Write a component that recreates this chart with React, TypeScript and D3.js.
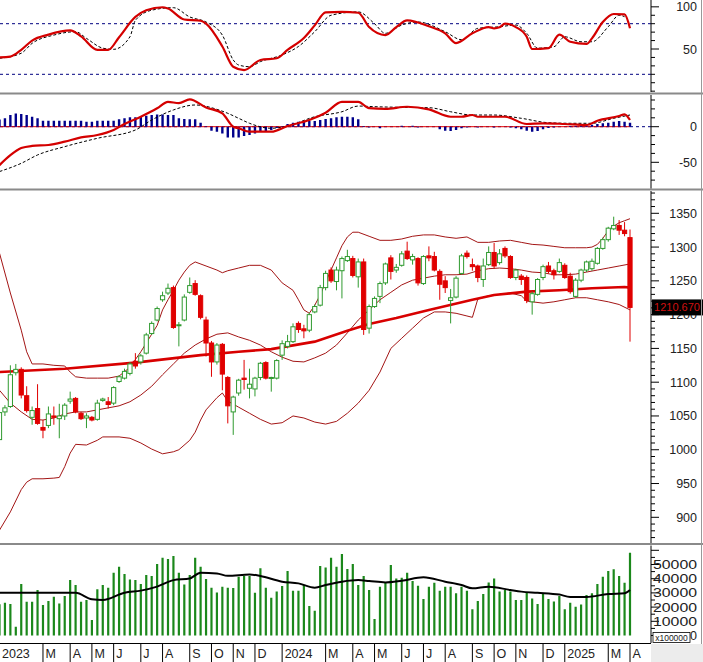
import * as d3 from 'd3'
import { useMemo } from 'react'

const W = 703
const H = 662
const AXIS_X = 651

// weekly candles Jan 2023 .. Apr 2025 : [open, high, low, close]
const candles: number[][] = [
  [1015, 1062, 1008, 1055], [1056, 1066, 1050, 1062], [1064, 1125, 1062, 1111], [1114, 1127, 1110, 1119],
  [1119, 1122, 1076, 1081], [1080, 1094, 1055, 1058], [1048, 1064, 1037, 1058], [1061, 1097, 1037, 1039],
  [1033, 1044, 1017, 1029], [1036, 1064, 1032, 1053], [1050, 1064, 1037, 1048], [1046, 1068, 1017, 1050],
  [1050, 1069, 1044, 1066], [1072, 1086, 1068, 1075], [1076, 1078, 1054, 1056], [1054, 1056, 1044, 1046],
  [1047, 1054, 1032, 1050], [1048, 1050, 1042, 1044], [1045, 1074, 1043, 1069], [1073, 1077, 1071, 1075],
  [1071, 1078, 1061, 1067], [1069, 1094, 1066, 1092], [1101, 1110, 1099, 1108], [1106, 1120, 1104, 1116],
  [1113, 1130, 1110, 1127], [1131, 1143, 1120, 1124], [1130, 1142, 1126, 1139], [1143, 1173, 1141, 1170],
  [1172, 1190, 1170, 1187], [1192, 1212, 1190, 1209], [1222, 1234, 1219, 1228], [1232, 1246, 1229, 1239],
  [1240, 1243, 1179, 1181], [1184, 1189, 1153, 1185], [1192, 1230, 1190, 1226], [1233, 1255, 1231, 1243],
  [1246, 1251, 1228, 1230], [1228, 1230, 1193, 1196], [1192, 1197, 1138, 1158], [1158, 1161, 1108, 1130],
  [1130, 1158, 1126, 1155], [1156, 1158, 1088, 1112], [1107, 1109, 1039, 1065], [1056, 1080, 1022, 1078],
  [1084, 1105, 1080, 1103], [1106, 1133, 1089, 1104], [1091, 1120, 1076, 1097], [1090, 1108, 1079, 1106],
  [1107, 1130, 1103, 1128], [1129, 1131, 1104, 1106], [1106, 1108, 1086, 1107], [1106, 1134, 1104, 1132],
  [1140, 1162, 1133, 1157], [1153, 1170, 1150, 1160], [1160, 1187, 1158, 1182], [1187, 1190, 1173, 1178],
  [1179, 1185, 1165, 1176], [1177, 1203, 1174, 1200], [1204, 1215, 1202, 1212], [1214, 1244, 1212, 1240],
  [1240, 1265, 1236, 1261], [1266, 1270, 1247, 1250], [1249, 1271, 1236, 1266], [1265, 1286, 1224, 1283],
  [1280, 1296, 1278, 1286], [1283, 1287, 1255, 1258], [1256, 1283, 1240, 1278], [1278, 1283, 1170, 1178],
  [1180, 1215, 1172, 1212], [1212, 1227, 1210, 1224], [1227, 1249, 1217, 1246], [1247, 1277, 1244, 1275],
  [1284, 1288, 1252, 1264], [1266, 1275, 1262, 1270], [1273, 1294, 1271, 1290], [1294, 1308, 1281, 1283],
  [1281, 1290, 1274, 1286], [1283, 1285, 1243, 1247], [1246, 1288, 1244, 1286], [1287, 1301, 1279, 1284],
  [1286, 1293, 1264, 1266], [1264, 1267, 1222, 1245], [1250, 1257, 1232, 1240], [1221, 1238, 1187, 1225],
  [1226, 1257, 1224, 1254], [1261, 1290, 1259, 1287], [1291, 1295, 1283, 1286], [1274, 1283, 1265, 1271],
  [1272, 1274, 1248, 1255], [1252, 1283, 1241, 1272], [1274, 1301, 1272, 1292], [1292, 1306, 1268, 1272],
  [1277, 1297, 1274, 1290], [1298, 1301, 1284, 1287], [1286, 1288, 1253, 1255], [1255, 1268, 1251, 1266],
  [1257, 1260, 1244, 1252], [1255, 1258, 1217, 1221], [1219, 1234, 1200, 1231], [1230, 1254, 1228, 1252],
  [1255, 1274, 1251, 1271], [1272, 1278, 1261, 1264], [1265, 1268, 1252, 1259], [1264, 1283, 1262, 1277],
  [1273, 1276, 1253, 1255], [1257, 1262, 1231, 1234], [1227, 1254, 1225, 1251], [1251, 1268, 1248, 1266],
  [1266, 1280, 1263, 1278], [1268, 1283, 1265, 1279], [1276, 1300, 1274, 1298], [1298, 1314, 1296, 1311],
  [1311, 1330, 1308, 1328], [1327, 1345, 1325, 1332], [1332, 1340, 1318, 1325], [1325, 1337, 1316, 1320],
  [1314, 1326, 1160, 1210.67],
]

// weekly volume (x100000)
const volumes = [
  22000, 23100, 22200, 6200, 36300, 23800, 23800, 32000, 21500, 24300, 27300, 22600, 27800, 39000, 35500, 23800,
  25000, 10900, 32500, 35500, 33700, 44200, 48500, 43300, 39500, 39000, 36300, 42600, 41900, 50300, 54800, 53900,
  56000, 44200, 36000, 42600, 54800, 48500, 39800, 33700, 30200, 34400, 33700, 33500, 41400, 41900, 41900, 30100,
  47300, 33700, 26600, 30900, 34800, 45400, 31600, 31600, 35600, 20800, 17500, 48900, 47800, 54800, 48500, 57400,
  46800, 50300, 35600, 41900, 32000, 11600, 34400, 37400, 49600, 40200, 40700, 44200, 38400, 35100, 25700, 34400,
  37200, 31600, 34400, 34400, 29700, 34400, 31600, 18400, 24300, 29200, 37400, 40200, 30900, 32000, 30900, 25000,
  25000, 30100, 26100, 22200, 29200, 25700, 23900, 27900, 18400, 23000, 20200, 21900, 28600, 29700, 36300, 41400,
  45400, 46600, 41900, 37200, 58300,
]

const macdHist = [
  10, 11.7, 16.4, 18.7, 17.8, 16.4, 14, 11.7, 8.4, 8.4, 8.4, 8.4, 8.4, 8.4, 8.4, 8.4, 7, 7, 8.4, 8.4, 8.4, 8.4,
  10.3, 11.7, 13.1, 13.1, 14, 15.4, 16.4, 17.3, 17.3, 16.4, 16.4, 11.7, 10.8, 10.3, 10.3, 5.6, 0.5, -5.6, -7, -9.4,
  -15, -15, -15, -13.1, -11.7, -9.4, -7, -6, -4.7, -2, 0.5, 3.7, 5.6, 7, 7, 8, 8, 9.4, 10.8, 11.7, 13.1, 14, 14,
  13.1, 10.3, 1, -1, 0, -2.3, 0, 0, 0, 1.4, 0, 1.4, -1, 0, 0, 0, -3.7, -5.6, -6, -4.7, -2.3, -1, 0, -1, 0, 0, -1,
  0, 0, -1, -2.3, -3.7, -5.6, -7, -6, -3.7, -2, -1, 0, 0, 1, 1, 1, 1.9, 2.8, 3.7, 4.7, 5.6, 7, 8, 7, 5.6,
]

// indicator lines: [week index, value]
const rsiLine = [
  [0, 40], [2, 41], [4, 49], [6, 60], [9, 67], [13, 72], [15, 65], [18, 49], [20, 49], [22, 64], [25, 88], [27, 96],
  [30, 99.5], [31, 98], [34, 85], [37, 83.5], [38, 80], [41, 53], [43, 29], [45, 25], [48, 37], [51, 39], [53, 49],
  [56, 63], [58, 78], [60, 93.5], [63, 94], [66, 93], [68, 76], [71, 66.5], [73, 76], [75, 84], [79, 77], [82, 68.6],
  [84, 57], [87, 68.6], [90, 76], [91, 74.5], [92, 75.7], [93, 80], [95, 76], [97, 64.5], [98, 50], [101, 51],
  [103, 67], [105, 58.6], [108, 56], [109, 62.6], [111, 82], [113, 91.5], [115, 91], [116, 74.5],
]
const rsiSignal = [
  [0, 39], [4, 45], [6, 56.7], [10, 66.5], [14, 70.5], [16, 62.6], [19, 51], [21, 49.6], [24, 64.5], [25, 84],
  [28, 96], [32, 99], [35, 88], [38, 82], [41, 66.5], [43, 37], [44, 31], [46, 29], [48, 35], [52, 43], [55, 53],
  [58, 70.5], [61, 90], [66, 94], [69, 80], [71, 68.6], [74, 78.4], [77, 82], [82, 70.5], [85, 61], [88, 74.5],
  [92, 76.4], [95, 78.4], [97, 68.6], [99, 51], [102, 52.7], [104, 64.5], [107, 58.6], [109, 58.6], [112, 76.4],
  [114, 90], [115, 88.3],
]
const macdLine = [
  [0, -54], [2, -40], [4, -30], [6, -27], [9, -25.7], [12, -21], [15, -15], [18, -11.7], [21, -4.6], [23, 3.8],
  [26, 14], [29, 25.8], [31, 35], [33, 33], [35, 38.5], [38, 27], [41, 18.8], [43, 0], [44, -2.2], [46, -7],
  [50, -7], [53, 1], [57, 9.4], [60, 19.7], [63, 35], [66, 35], [68, 26], [71, 25], [75, 28], [79, 24.4], [83, 14],
  [85, 14], [87, 16.4], [88, 14], [93, 14], [97, 3.8], [100, 4.8], [104, 3.8], [108, 2.4], [110, 8.4], [114, 15],
  [115, 17.4], [116, 9.4],
]
const macdSignal = [
  [0, -63], [4, -51.4], [7, -39.7], [12, -28], [18, -16.3], [25, -4.6], [28, 9.4], [32, 23.5], [36, 30.5],
  [40, 24.4], [42, 18.8], [44, 11.8], [46, 4.8], [50, -2.2], [53, 1], [58, 14], [63, 21], [66, 29], [69, 28.1],
  [74, 27.2], [79, 26.7], [83, 21], [87, 16.4], [91, 16.4], [96, 11.8], [101, 5.6], [105, 4.8], [109, 4.8],
  [113, 11.8], [116, 16.4],
]
const bbUpper = [
  [0, 1291], [2, 1232], [4, 1177], [5, 1145], [6, 1127], [8, 1127], [10, 1125], [12, 1124], [13, 1115], [14, 1108],
  [16, 1106], [18, 1106], [20, 1106], [22, 1109], [24, 1122], [26, 1145], [27, 1158], [28, 1171], [29, 1184],
  [30, 1207], [31, 1222], [32, 1236], [33, 1251], [34, 1263], [35, 1273], [36, 1278], [38, 1272], [40, 1266],
  [41, 1262], [42, 1265], [44, 1269], [46, 1273], [48, 1273], [50, 1266], [52, 1247], [54, 1236], [55, 1222],
  [56, 1207], [57, 1202], [58, 1214], [59, 1229], [60, 1248], [61, 1266], [62, 1284], [63, 1302], [64, 1315],
  [65, 1322], [66, 1322], [68, 1316], [70, 1310], [72, 1310], [74, 1312], [76, 1316], [78, 1318], [80, 1318],
  [82, 1315], [84, 1313], [86, 1315], [88, 1307], [90, 1307], [92, 1309], [94, 1310], [96, 1307], [98, 1304],
  [100, 1303], [102, 1301], [104, 1299], [106, 1299], [108, 1299], [109, 1300], [110, 1304], [111, 1313],
  [112, 1324], [113, 1331], [114, 1336], [115, 1339], [116, 1342],
]
const bbMiddle = [
  [0, 1088], [2, 1069], [4, 1056], [6, 1045], [8, 1044], [10, 1047], [12, 1053], [14, 1056], [16, 1056], [18, 1059],
  [20, 1062], [22, 1065], [24, 1071], [26, 1081], [28, 1094], [30, 1111], [32, 1127], [34, 1143], [36, 1155],
  [38, 1164], [40, 1171], [42, 1173], [44, 1167], [46, 1162], [48, 1155], [50, 1145], [52, 1137], [54, 1131],
  [56, 1130], [58, 1136], [60, 1143], [62, 1155], [64, 1173], [66, 1192], [68, 1207], [70, 1222], [72, 1233],
  [74, 1244], [76, 1251], [78, 1254], [80, 1257], [82, 1259], [84, 1259], [86, 1260], [88, 1265], [90, 1268],
  [92, 1269], [94, 1268], [96, 1266], [98, 1263], [100, 1262], [102, 1259], [104, 1259], [106, 1260], [108, 1263],
  [110, 1266], [112, 1269], [114, 1272], [116, 1275],
]
const bbLower = [
  [0, 881], [2, 908], [4, 941], [5, 952], [6, 957], [8, 957], [10, 958], [11, 959], [12, 975], [13, 995], [14, 1008],
  [16, 1007], [18, 1014], [19, 1019], [22, 1019], [24, 1017], [26, 1010], [28, 1001], [30, 994], [32, 997],
  [33, 1000], [35, 1014], [36, 1026], [37, 1044], [38, 1059], [40, 1077], [41, 1084], [42, 1072], [44, 1063],
  [46, 1054], [48, 1045], [50, 1038], [52, 1040], [54, 1050], [56, 1047], [58, 1041], [60, 1038], [62, 1042],
  [64, 1054], [66, 1069], [68, 1088], [70, 1115], [72, 1150], [74, 1165], [76, 1180], [78, 1195], [80, 1204],
  [82, 1204], [84, 1202], [86, 1198], [87, 1196], [88, 1223], [90, 1228], [92, 1230], [94, 1232], [96, 1228],
  [97, 1220], [98, 1219], [100, 1217], [102, 1219], [104, 1222], [106, 1225], [108, 1225], [110, 1222],
  [112, 1219], [114, 1215], [116, 1207],
]
const longMA = [
  [0, 1115], [12, 1120], [25, 1129], [37, 1140], [44, 1145], [50, 1149], [58, 1160], [64, 1176], [68, 1186],
  [73, 1195], [79, 1207], [87, 1222], [91, 1229], [97, 1234], [103, 1236], [109, 1239], [115, 1241], [116, 1240],
]
const volumeMA = [
  [0, 30100], [6, 30100], [14, 30100], [17, 25500], [19, 25000], [23, 30100], [26, 31600], [29, 34400], [32, 39000],
  [35, 40200], [37, 44200], [40, 43700], [42, 42000], [46, 43000], [48, 41900], [52, 37900], [55, 36700],
  [58, 33700], [60, 35600], [63, 37900], [66, 39000], [68, 38400], [71, 37400], [74, 38600], [78, 41000],
  [82, 37900], [85, 35600], [87, 33200], [90, 34400], [94, 32000], [96, 30900], [99, 30100], [103, 28800],
  [105, 27200], [108, 27200], [112, 29200], [115, 29700], [116, 32000],
]

const monthTicks: [number, string][] = [
  [0, '2023'], [8, 'M'], [13, 'A'], [17, 'M'], [21, 'J'], [26, 'J'], [30, 'A'], [35, 'S'], [39, 'O'], [43, 'N'],
  [47, 'D'], [52, '2024'], [60, 'M'], [65, 'A'], [69, 'M'], [74, 'J'], [78, 'J'], [82, 'A'], [87, 'S'], [91, 'O'],
  [95, 'N'], [100, 'D'], [104, '2025'], [112, 'M'], [116, 'A'],
]

const rsiLabels = [50, 100]
const macdLabels = [0, -50]
const priceLabels = [900, 950, 1000, 1050, 1100, 1150, 1200, 1250, 1300, 1350]
const volLabels = [10000, 20000, 30000, 40000, 50000]
const lastClose = 1210.67

const FONT = '"Liberation Sans", Arial, sans-serif'
const GREEN = '#2f9a2f'
const RED = '#e00000'

const App = () => {
  const x = useMemo(() => d3.scaleLinear().domain([0, 116]).range([-0.5, 630]), [])
  const rsiY = useMemo(() => d3.scaleLinear().domain([20, 80]).range([74.3, 23.7]), [])
  const macdY = useMemo(() => d3.scaleLinear().domain([-50, 0]).range([162.3, 126.7]), [])
  const priceY = useMemo(() => d3.scaleLinear().domain([900, 1350]).range([517.3, 213.3]), [])
  const volY = useMemo(() => d3.scaleLinear().domain([0, 50000]).range([635.5, 564.5]), [])

  const mk = (sy: d3.ScaleLinear<number, number>, curve: d3.CurveFactory = d3.curveLinear) =>
    d3.line<number[]>().x(d => x(d[0])).y(d => sy(d[1])).curve(curve)

  const rsiPath = mk(rsiY, d3.curveMonotoneX)
  const macdPath = mk(macdY, d3.curveMonotoneX)
  const pricePath = mk(priceY)
  const volPath = mk(volY, d3.curveMonotoneX)

  // axis ticks for each panel: [value, y, major]
  const rsiTicks = d3.range(0, 101, 10).map(v => [v, rsiY(v), v % 50 === 0 && v > 0])
  const macdTicks = d3.range(-87.5, 50, 12.5)
    .filter(v => macdY(v) > 96 && macdY(v) < 188)
    .map(v => [v, macdY(v), v % 50 === 0])
  const priceTicks = d3.range(860, 1390, 10)
    .filter(v => priceY(v) > 192 && priceY(v) < 543)
    .map(v => [v, priceY(v), v % 50 === 0])
  const volTicks = d3.range(0, 65000, 5000)
    .filter(v => volY(v) > 546)
    .map(v => [v, volY(v), v % 10000 === 0])

  const tickMarks = (ticks: any[], key: string) =>
    ticks.map(([v, y, major]) => (
      <line key={key + v} x1={AXIS_X} x2={AXIS_X + (major ? 8 : 4)} y1={y} y2={y} stroke="#000" strokeWidth={1} />
    ))

  const bodyW = 4.2

  return (
    <svg width={W} height={H} style={{ position: 'absolute', left: 0, top: 0, background: '#fff' }} fontFamily={FONT}>
      <defs>
        <clipPath id="cRsi"><rect x={0} y={0} width={AXIS_X} height={92.5} /></clipPath>
        <clipPath id="cMacd"><rect x={0} y={95} width={AXIS_X} height={93.5} /></clipPath>
        <clipPath id="cPrice"><rect x={0} y={191} width={AXIS_X} height={352} /></clipPath>
        <clipPath id="cVol"><rect x={0} y={545.5} width={AXIS_X} height={97} /></clipPath>
      </defs>

      {/* RSI panel */}
      <g clipPath="url(#cRsi)">
        {[80, 20].map(v => (
          <line key={v} x1={0} x2={AXIS_X} y1={rsiY(v)} y2={rsiY(v)} stroke="#000080" strokeDasharray="3,3" />
        ))}
        <path d={rsiPath(rsiSignal) || ''} fill="none" stroke="#000" strokeWidth={1} strokeDasharray="3,2" />
        <path d={rsiPath(rsiLine) || ''} fill="none" stroke="#d40000" strokeWidth={2.2} />
      </g>

      {/* MACD panel */}
      <g clipPath="url(#cMacd)">
        <line x1={0} x2={AXIS_X} y1={macdY(0)} y2={macdY(0)} stroke="#000080" strokeDasharray="3,3" />
        <line x1={0} x2={x(116)} y1={macdY(0)} y2={macdY(0)} stroke={RED} strokeWidth={1} />
        {macdHist.map((v, i) => (
          <line key={i} x1={x(i)} x2={x(i)} y1={macdY(0)} y2={macdY(v)} stroke="#00008b" strokeWidth={2.4} />
        ))}
        <path d={macdPath(macdSignal) || ''} fill="none" stroke="#000" strokeWidth={1} strokeDasharray="3,2" />
        <path d={macdPath(macdLine) || ''} fill="none" stroke="#d40000" strokeWidth={2.2} />
      </g>

      {/* price panel */}
      <g clipPath="url(#cPrice)">
        {[bbUpper, bbMiddle, bbLower].map((s, k) => (
          <path key={k} d={pricePath(s) || ''} fill="none" stroke="#a31515" strokeWidth={1} />
        ))}
        <path d={pricePath(longMA) || ''} fill="none" stroke="#d80000" strokeWidth={2.6} />
        {candles.map(([o, h, l, c], i) => {
          const up = c >= o
          const col = up ? GREEN : RED
          const top = priceY(Math.max(o, c))
          const bot = priceY(Math.min(o, c))
          return (
            <g key={i}>
              <line x1={x(i)} x2={x(i)} y1={priceY(h)} y2={priceY(l)} stroke={col} strokeWidth={1} />
              <rect
                x={x(i) - bodyW / 2}
                y={top}
                width={bodyW}
                height={Math.max(1, bot - top)}
                fill={up ? '#fff' : col}
                stroke={col}
                strokeWidth={1}
              />
            </g>
          )
        })}
      </g>

      {/* volume panel */}
      <g clipPath="url(#cVol)">
        {volumes.map((v, i) => (
          <line key={i} x1={x(i)} x2={x(i)} y1={volY(0)} y2={volY(v)} stroke="#1b881b" strokeWidth={2.2} />
        ))}
        <path d={volPath(volumeMA) || ''} fill="none" stroke="#000" strokeWidth={2} />
      </g>

      {/* panel separators */}
      {[93.5, 189.5, 544].map(y => (
        <line key={y} x1={0} x2={W} y1={y} y2={y} stroke="#8a8a8a" strokeWidth={2} />
      ))}

      {/* right axis */}
      {[[0, 92], [95, 188.5], [191, 543], [545.5, 643]].map(([a, b]) => (
        <line key={a} x1={AXIS_X} x2={AXIS_X} y1={a} y2={b} stroke="#000" strokeWidth={1} />
      ))}
      {tickMarks(rsiTicks, 'r')}
      {tickMarks(macdTicks, 'm')}
      {tickMarks(priceTicks, 'p')}
      {tickMarks(volTicks, 'v')}

      <g fill="#222" fontSize={12.5} textAnchor="end">
        {rsiLabels.map(v => (
          <text key={'rl' + v} x={697} y={rsiY(v) + 4.5}>{v}</text>
        ))}
        {macdLabels.map(v => (
          <text key={'ml' + v} x={697} y={macdY(v) + 4.5}>{v}</text>
        ))}
        {priceLabels.map(v => (
          <text key={'pl' + v} x={697} y={priceY(v) + 4.5}>{v}</text>
        ))}
        {volLabels.map(v => (
          <text key={'vl' + v} x={697} y={volY(v) + 4.5} textLength={44} lengthAdjust="spacingAndGlyphs">{v}</text>
        ))}
        <text x={697} y={volY(0) + 4.5}>0</text>
      </g>

      {/* last price marker */}
      <rect x={AXIS_X + 1} y={priceY(lastClose) - 8} width={51} height={16} fill="#000" />
      <text x={677} y={priceY(lastClose) + 4} fill="#d01010" fontSize={11} textAnchor="middle">
        {lastClose.toFixed(3)}
      </text>

      {/* volume unit box */}
      <rect x={653} y={632.5} width={37} height={10} fill="#fff" stroke="#000" strokeWidth={0.8} />
      <text x={671.5} y={640.5} fontSize={8.5} textAnchor="middle" fill="#222">x100000</text>

      {/* bottom-right blank and right border */}
      <rect x={AXIS_X} y={644} width={W - AXIS_X} height={H - 644} fill="#ececec" />
      <line x1={701.5} x2={701.5} y1={0} y2={644} stroke="#999" strokeWidth={1} />

      {/* time axis */}
      <line x1={0} x2={AXIS_X} y1={643.5} y2={643.5} stroke="#000" strokeWidth={1} />
      {monthTicks.map(([i, label]) => (
        <g key={i}>
          <line x1={x(i)} x2={x(i)} y1={643.5} y2={662} stroke="#000" strokeWidth={1} />
          <text x={x(i) + 2.5} y={657.5} fontSize={12.5} fill="#222">{label}</text>
        </g>
      ))}
    </svg>
  )
}

export default App
